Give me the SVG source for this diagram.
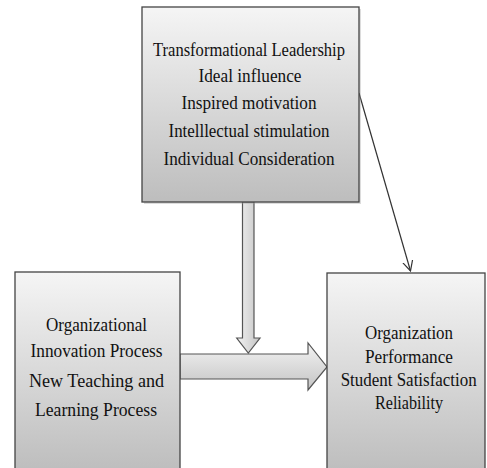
<svg xmlns="http://www.w3.org/2000/svg" width="487" height="468" viewBox="0 0 487 468">
<defs>
<linearGradient id="gBox" x1="0" y1="0" x2="0" y2="1">
<stop offset="0" stop-color="#f5f5f5"/>
<stop offset="1" stop-color="#bdbdbd"/>
</linearGradient>
<linearGradient id="gV" x1="0" y1="0" x2="1" y2="0">
<stop offset="0" stop-color="#f3f3f3"/>
<stop offset="1" stop-color="#c4c4c4"/>
</linearGradient>
<linearGradient id="gH" x1="0" y1="0" x2="0" y2="1">
<stop offset="0" stop-color="#f3f3f3"/>
<stop offset="1" stop-color="#c4c4c4"/>
</linearGradient>
<marker id="open" markerWidth="12" markerHeight="12" refX="10" refY="5" orient="auto" markerUnits="userSpaceOnUse" viewBox="0 0 12 10">
<path d="M0,0 L10,5 L0,10" fill="none" stroke="#333" stroke-width="1.2"/>
</marker>
</defs>
<style>
.box{fill:url(#gBox);stroke:#444;stroke-width:1.3}
.shadow{fill:#9a9a9a;opacity:0.35}
.t{font-family:"Liberation Serif","Times New Roman",serif;font-size:19.5px;fill:#111;text-anchor:middle}
.s{font-size:18px}
.blk{stroke:#555;stroke-width:1.2}
</style>
<rect width="487" height="468" fill="#ffffff"/>
<g id="connectors">
<path class="blk" fill="url(#gV)" d="M242.5,202 L254,202 L254,338 L260,338 L248.3,353 L236.7,338 L242.5,338 Z"/>
<path class="blk" fill="url(#gH)" d="M180,354 L308,354 L308,343 L327,367 L308,390 L308,379 L180,379 Z"/>
<line x1="359" y1="93" x2="410.5" y2="271" stroke="#333" stroke-width="1.2" marker-end="url(#open)"/>
</g>
<g id="node-leadership">
<rect class="shadow" x="144" y="9" width="217" height="195"/>
<rect class="box" x="142" y="7" width="217" height="195"/>
<text class="t" x="249" y="56" textLength="192" lengthAdjust="spacingAndGlyphs">Transformational Leadership</text>
<text class="t" x="250" y="82" textLength="103" lengthAdjust="spacingAndGlyphs">Ideal influence</text>
<text class="t" x="249" y="108.5" textLength="135" lengthAdjust="spacingAndGlyphs">Inspired motivation</text>
<text class="t" x="249" y="136.5" textLength="161" lengthAdjust="spacingAndGlyphs">Intelllectual stimulation</text>
<text class="t" x="249" y="164.5" textLength="171" lengthAdjust="spacingAndGlyphs">Individual Consideration</text>
</g>
<g id="node-innovation">
<rect class="box" x="15" y="272" width="165" height="200"/>
<text class="t" x="96.5" y="330.5" textLength="101" lengthAdjust="spacingAndGlyphs">Organizational</text>
<text class="t" x="96.5" y="356.5" textLength="132" lengthAdjust="spacingAndGlyphs">Innovation Process</text>
<text class="t" x="96.5" y="387" textLength="135" lengthAdjust="spacingAndGlyphs">New Teaching and</text>
<text class="t" x="96" y="416" textLength="122" lengthAdjust="spacingAndGlyphs">Learning Process</text>
</g>
<g id="node-performance">
<rect class="box" x="327" y="273" width="158" height="200"/>
<text class="t s" x="409" y="339" textLength="88" lengthAdjust="spacingAndGlyphs">Organization</text>
<text class="t s" x="409" y="363" textLength="88" lengthAdjust="spacingAndGlyphs">Performance</text>
<text class="t s" x="408.7" y="385.5" textLength="136" lengthAdjust="spacingAndGlyphs">Student Satisfaction</text>
<text class="t s" x="409" y="408.5" textLength="68" lengthAdjust="spacingAndGlyphs">Reliability</text>
</g>
</svg>
